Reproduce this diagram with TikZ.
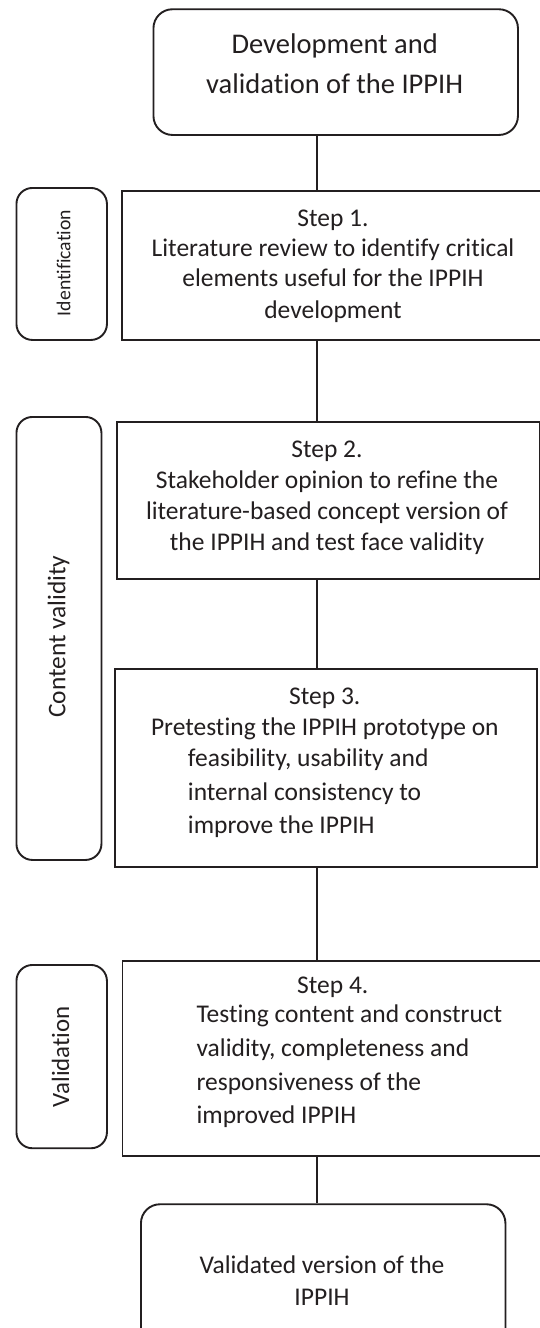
\documentclass[tikz,border=0pt]{standalone}
\usepackage{fontspec}
\setmainfont{Carlito}[Ligatures=CommonOff]
\definecolor{ink}{HTML}{231F20}
\begin{document}
\begin{tikzpicture}[x=1pt,y=-1pt,
  line width=1.9pt,
  box/.style={draw=ink, rectangle, inner sep=0pt, anchor=north west},
  rbox/.style={box, rounded corners=19pt},
  sidebox/.style={box, rounded corners=16pt},
  txt/.style={text=ink, inner sep=0pt, font=\fontsize{25.5}{30}\selectfont},
  big/.style={text=ink, inner sep=0pt, font=\fontsize{28.5}{34}\selectfont},
  conn/.style={draw=ink, line width=1.9pt}]
\useasboundingbox (0,0) rectangle (540,1328);
\clip (0,0) rectangle (540,1328);
\fill[white] (0,0) rectangle (540,1328);

% boxes
\node[rbox, minimum width=364.5pt, minimum height=125.7pt] (top) at (152.5,8.3) {};
\node[box, minimum width=430pt, minimum height=149pt] (s1) at (121,190) {};
\node[box, minimum width=423.3pt, minimum height=157pt] (s2) at (115.7,421) {};
\node[box, minimum width=422.4pt, minimum height=197.4pt] (s3) at (113.6,668.3) {};
\node[box, minimum width=430pt, minimum height=194.7pt] (s4) at (121.5,960) {};
\node[rbox, minimum width=364.5pt, minimum height=160pt] (fin) at (140,1203.3) {};

\node[sidebox, minimum width=90.5pt, minimum height=152pt] (sid) at (15.5,187) {};
\node[sidebox, minimum width=85pt, minimum height=443pt] (scv) at (15.5,416) {};
\node[sidebox, minimum width=90.5pt, minimum height=183.3pt] (sva) at (15.5,964) {};

% side labels
\node[text=ink, inner sep=0pt, rotate=90, font=\fontsize{19.7}{24}\selectfont] (lid) at (63.5,263) {Identification};
\node[text=ink, inner sep=0pt, rotate=90, font=\fontsize{25.4}{30}\selectfont] (lcv) at (58.5,636.7) {Content validity};
\node[text=ink, inner sep=0pt, rotate=90, font=\fontsize{24.9}{30}\selectfont] (lva) at (60.5,1056.7) {Validation};

% connectors
\coordinate (cx) at (317,0);
\draw[conn] (top.south -| cx) -- (s1.north -| cx);
\draw[conn] (s1.south -| cx) -- (s2.north -| cx);
\draw[conn] (s2.south -| cx) -- (s3.north -| cx);
\draw[conn] (s3.south -| cx) -- (s4.north -| cx);
\draw[conn] (s4.south -| cx) -- (fin.north -| cx);

% top text
\node[big, anchor=base] (ta) at (334.7,53.3) {Development and};
\node[big, anchor=base] (tb) at (334.7,93.3) {validation of the IPPIH};

% step 1
\node[txt, anchor=base] (a1) at (333,226.7) {Step 1.};
\node[txt, anchor=base] (a2) at (333,256.7) {Literature review to identify critical};
\node[txt, anchor=base] (a3) at (333,286.7) {elements useful for the IPPIH};
\node[txt, anchor=base] (a4) at (333,318) {development};

% step 2
\node[txt, anchor=base] (b1) at (327,457.3) {Step 2.};
\node[txt, anchor=base] (b2) at (327,488.3) {Stakeholder opinion to refine the};
\node[txt, anchor=base] (b3) at (327,519.3) {literature-based concept version of};
\node[txt, anchor=base] (b4) at (327,550) {the IPPIH and test face validity};

% step 3
\node[txt, anchor=base] (c1) at (324.8,704) {Step 3.};
\node[txt, anchor=base] (c2) at (324.8,735) {Pretesting the IPPIH prototype on};
\node[txt, anchor=base west] (c3) at (187,766.7) {feasibility, usability and};
\node[txt, anchor=base west] (c4) at (187,800) {internal consistency to};
\node[txt, anchor=base west] (c5) at (187,833.3) {improve the IPPIH};

% step 4
\node[txt, anchor=base] (d1) at (332.8,993.3) {Step 4.};
\node[txt, anchor=base west] (d2) at (195.6,1022.7) {Testing content and construct};
\node[txt, anchor=base west] (d3) at (195.6,1056.7) {validity, completeness and};
\node[txt, anchor=base west] (d4) at (195.6,1090) {responsiveness of the};
\node[txt, anchor=base west] (d5) at (195.6,1123.3) {improved IPPIH};

% final
\node[txt, anchor=base] (e1) at (322,1273.3) {Validated version of the};
\node[txt, anchor=base] (e2) at (322,1305) {IPPIH};
\end{tikzpicture}
\end{document}
